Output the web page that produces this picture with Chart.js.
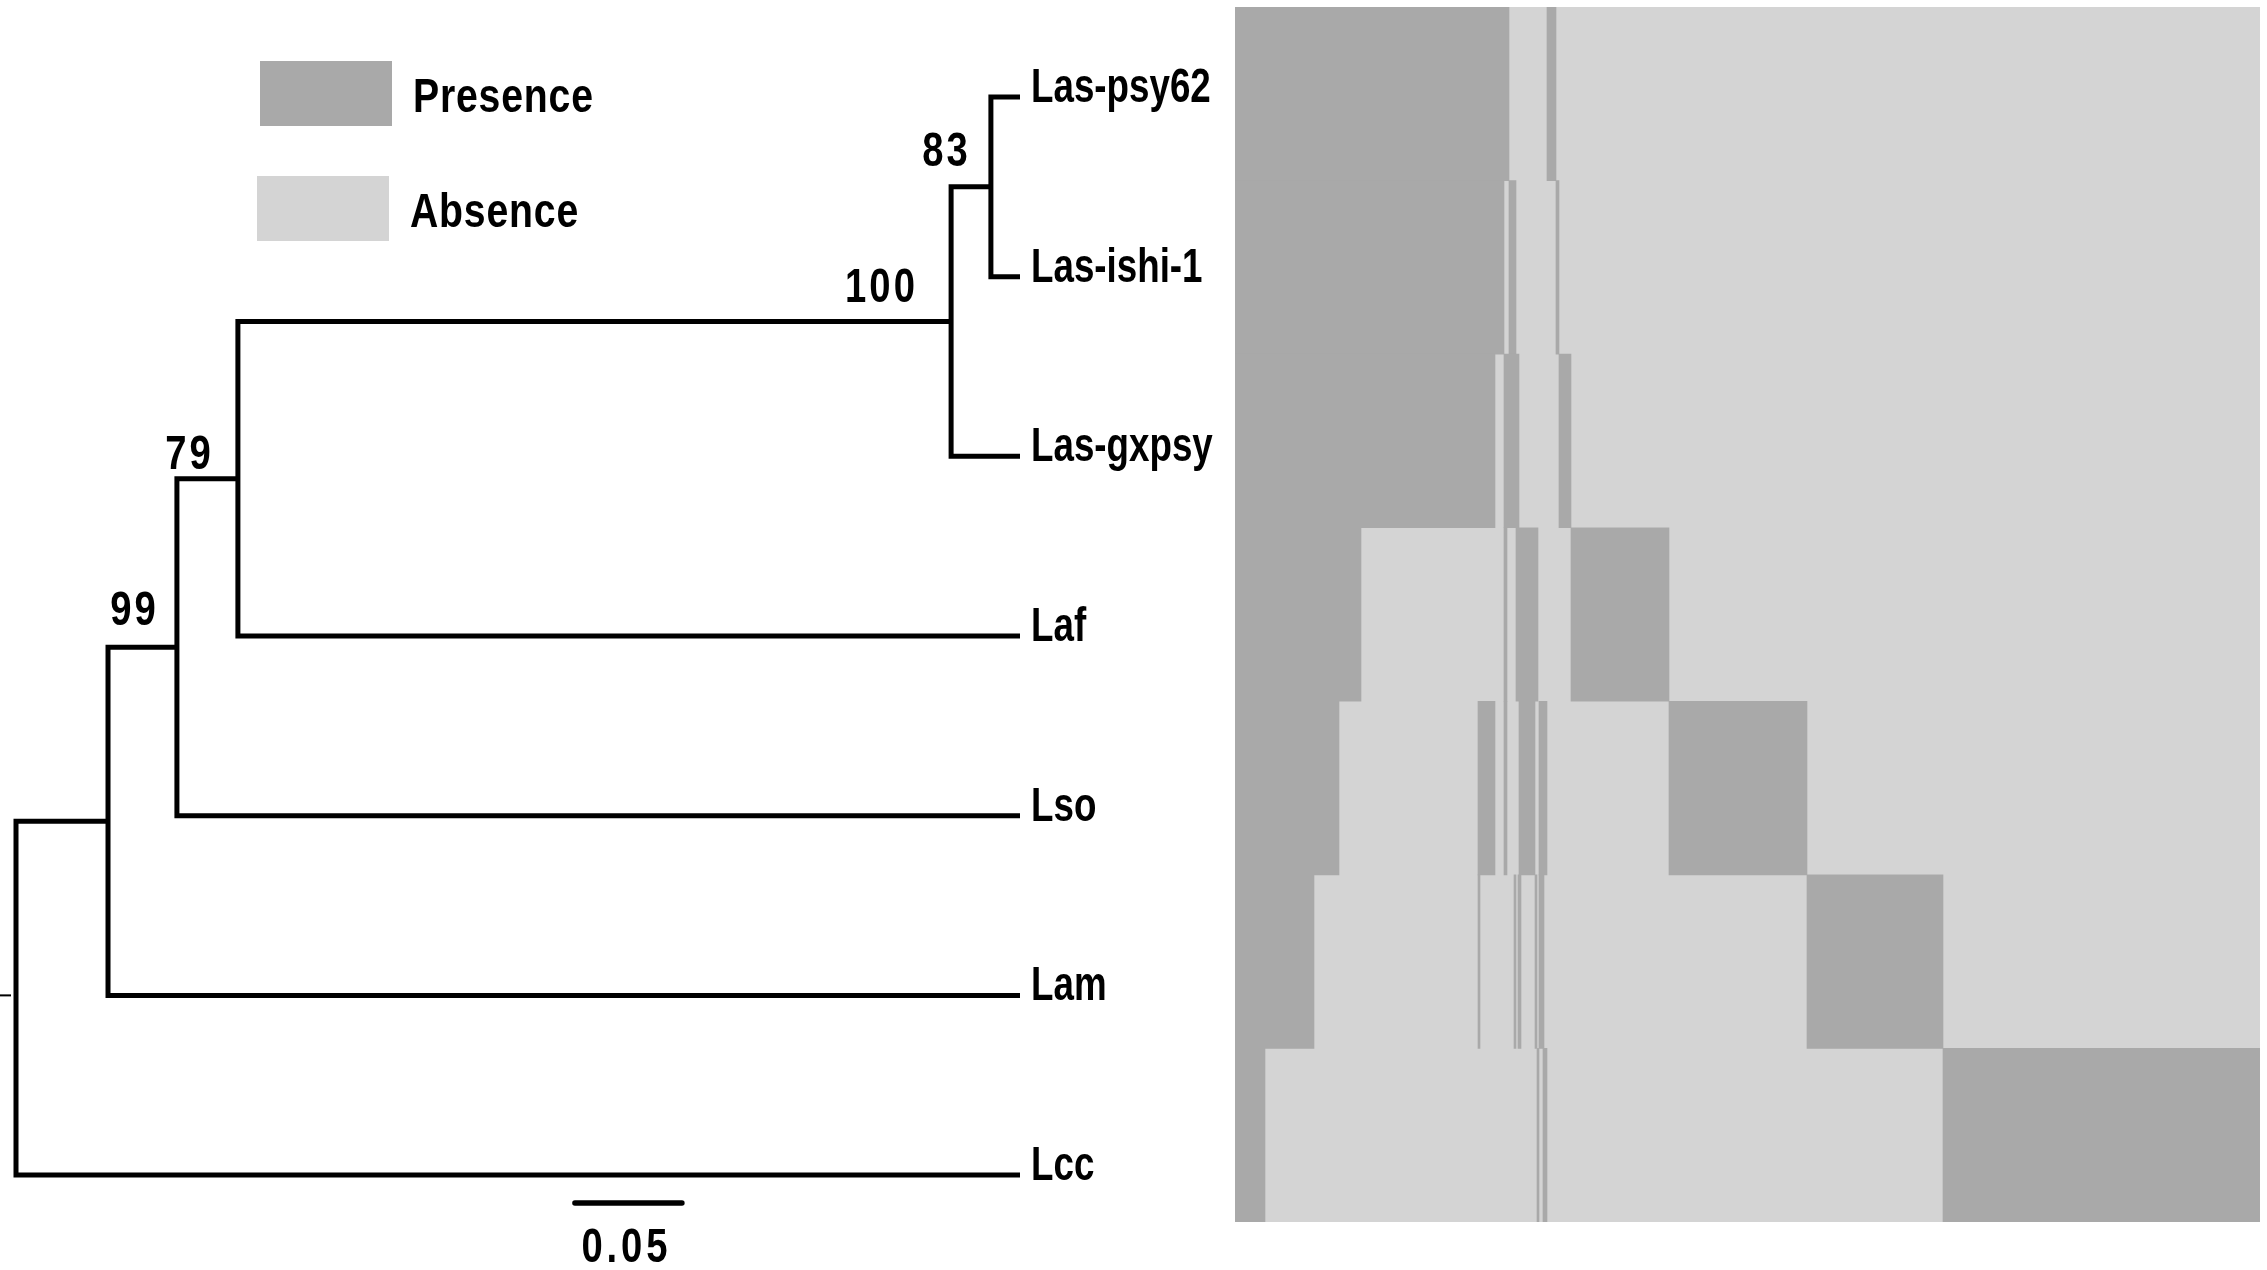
<!DOCTYPE html>
<html>
<head>
<meta charset="utf-8">
<script src="https://cdn.jsdelivr.net/npm/chart.js@4.4.0/dist/chart.umd.min.js"></script>
<style>
html, body { margin: 0; padding: 0; background: #fff; width: 2267px; height: 1270px; overflow: hidden; }
#treeBox { position: absolute; left: 0; top: 0; width: 1235px; height: 1270px; }
#heatBox { position: absolute; left: 1235px; top: 0; width: 1032px; height: 1270px; }
</style>
</head>
<body>
<div id="treeBox"><canvas id="treeChart" width="1235" height="1270"></canvas></div>
<div id="heatBox"><canvas id="heatChart" width="1032" height="1270"></canvas></div>
<script>
// taxa, top to bottom (tips 0..6)
var taxa = ['Las-psy62', 'Las-ishi-1', 'Las-gxpsy', 'Laf', 'Lso', 'Lam', 'Lcc'];
var tipDepth = 0.4692;

// internal nodes (index 7..12), children refer to tips 0-6 or nodes 7+
var nodeDepth = [0.4556, 0.4370, 0.1037, 0.0752, 0.0430, 0];
var nodeChildren = [[0, 1], [7, 2], [8, 3], [9, 4], [10, 5], [11, 6]];
var nodeSupport = ['83', '100', '79', '99', '', ''];

var scaleBar = [0.2612, 0.3112];
var scaleBarLabel = '0.05';

// gene presence blocks along the ordered gene list
var geneCount = 1025;
var presPsy62 = [[0, 274], [312, 321]];
var presIshi1 = [[0, 269], [274, 281], [321, 324]];
var presGxpsy = [[0, 260], [269, 284], [324, 336]];
var presLaf = [[0, 126], [269, 272], [281, 303], [336, 434]];
var presLso = [[0, 104], [243, 260], [269, 272], [284, 300], [304, 312], [434, 572]];
var presLam = [[0, 79], [243, 245], [279, 281], [283, 286], [300, 302], [304, 309], [572, 708]];
var presLcc = [[0, 30], [302, 304], [308, 312], [708, 1025]];
var presence = [presPsy62, presIshi1, presGxpsy, presLaf, presLso, presLam, presLcc];

var darkGrey = '#a9a9a9';
var lightGrey = '#d4d4d4';
var boldFont = 'bold 49px "Liberation Sans", Arial, sans-serif';
// where each support label sits: [px left of node, px above branch]
var supportOffset = [[20, 21], [33, 20], [24, 10], [18, 22]];
var scaleBarY = 6.155;

// ---------- tree ----------
var posY = taxa.map(function(t, i) { return i; });
var posX = taxa.map(function() { return tipDepth; });
for (var n = 0; n < nodeChildren.length; n++) {
  var c = nodeChildren[n];
  posY.push((posY[c[0]] + posY[c[1]]) / 2);
  posX.push(nodeDepth[n]);
}

var treeSets = [];
for (var n = 0; n < nodeChildren.length; n++) {
  var a = nodeChildren[n][0], b = nodeChildren[n][1], d = nodeDepth[n];
  treeSets.push({
    data: [
      {x: posX[a], y: posY[a]}, {x: d, y: posY[a]},
      {x: d, y: posY[b]}, {x: posX[b], y: posY[b]}
    ],
    showLine: true, borderColor: '#000', borderWidth: 5, pointRadius: 0,
    tension: 0, clip: false, borderJoinStyle: 'miter'
  });
}
treeSets.push({
  data: [{x: scaleBar[0], y: scaleBarY}, {x: scaleBar[1], y: scaleBarY}],
  showLine: true, borderColor: '#000', borderWidth: 5.5, pointRadius: 0, clip: false,
  borderCapStyle: 'round'
});

function squeezeText(ctx, txt, x, y, align, sx, spacing) {
  ctx.save();
  ctx.translate(x, y);
  ctx.scale(sx, 1);
  ctx.letterSpacing = spacing + 'px';
  ctx.textAlign = align;
  ctx.textBaseline = 'alphabetic';
  ctx.fillText(txt, 0, 0);
  ctx.restore();
}

var treeText = {
  id: 'treeText',
  afterDraw: function(chart) {
    var ctx = chart.ctx, xs = chart.scales.x, ys = chart.scales.y;
    ctx.save();
    ctx.fillStyle = '#000';
    ctx.font = boldFont;
    // tip labels
    taxa.forEach(function(t, i) {
      squeezeText(ctx, t, xs.getPixelForValue(tipDepth) + 11, ys.getPixelForValue(i) + 5, 'left', 0.75, 0);
    });
    // bootstrap values
    for (var n = 0; n < nodeSupport.length; n++) {
      if (!nodeSupport[n]) continue;
      squeezeText(ctx, nodeSupport[n],
        xs.getPixelForValue(nodeDepth[n]) - supportOffset[n][0],
        ys.getPixelForValue(posY[7 + n]) - supportOffset[n][1], 'right', 0.78, 4);
    }
    // scale bar label
    squeezeText(ctx, scaleBarLabel, xs.getPixelForValue((scaleBar[0] + scaleBar[1]) / 2) - 2,
      ys.getPixelForValue(scaleBarY) + 59, 'center', 0.78, 5);
    // legend
    ctx.fillStyle = darkGrey;
    ctx.fillRect(260, 61, 132, 65);
    ctx.fillStyle = lightGrey;
    ctx.fillRect(257, 176, 132, 65);
    ctx.fillStyle = '#000';
    squeezeText(ctx, 'Presence', 413, 112, 'left', 0.8, 1);
    squeezeText(ctx, 'Absence', 410, 227, 'left', 0.8, 1);
    // small stray tick on the left edge
    ctx.fillRect(0, ys.getPixelForValue(5) - 1, 11, 2);
    ctx.restore();
  }
};

new Chart(document.getElementById('treeChart'), {
  type: 'scatter',
  data: {datasets: treeSets},
  options: {
    responsive: false,
    animation: false,
    layout: {padding: {left: 16, right: 215, top: 97, bottom: 59}},
    scales: {
      x: {type: 'linear', min: 0, max: tipDepth, display: false},
      y: {type: 'linear', min: 0, max: 6.2, reverse: true, display: false}
    },
    plugins: {legend: {display: false}, tooltip: {enabled: false}}
  },
  plugins: [treeText]
});

// ---------- presence / absence matrix ----------
var presData = [];
presence.forEach(function(rows, i) {
  rows.forEach(function(r) { presData.push({y: taxa[i], x: r}); });
});
var absData = taxa.map(function(t) { return {y: t, x: [0, geneCount]}; });

new Chart(document.getElementById('heatChart'), {
  type: 'bar',
  data: {
    labels: taxa,
    datasets: [
      {label: 'Presence', data: presData, backgroundColor: darkGrey, order: 0},
      {label: 'Absence', data: absData, backgroundColor: lightGrey, order: 1}
    ]
  },
  options: {
    indexAxis: 'y',
    responsive: false,
    animation: false,
    layout: {padding: {left: 0, right: 7, top: 7, bottom: 48}},
    datasets: {bar: {grouped: false, barPercentage: 1, categoryPercentage: 1, borderWidth: 0}},
    scales: {
      x: {type: 'linear', min: 0, max: geneCount, display: false},
      y: {type: 'category', display: false}
    },
    plugins: {legend: {display: false}, tooltip: {enabled: false}}
  }
});
</script>
</body>
</html>
